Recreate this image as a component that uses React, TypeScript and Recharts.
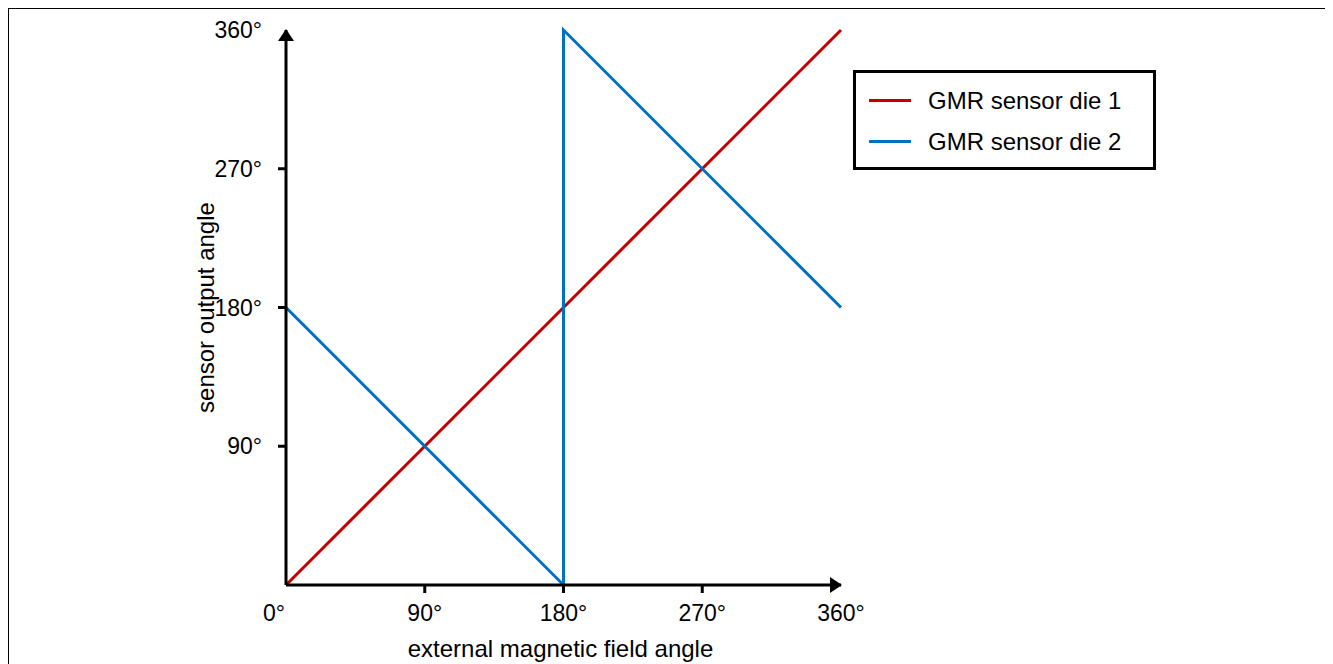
import React from 'react'
import { LineChart, Line, XAxis, YAxis, ReferenceDot } from 'recharts'

// angle (deg) in, angle (deg) out
const die1Angles = [0, 360]
const die1Output = [0, 360]
const die2Angles = [0, 180, 180, 360]
const die2Output = [180, 0, 360, 180]

const xTicks = [0, 90, 180, 270, 360]
const xTickLabels = ['0°', '90°', '180°', '270°', '360°']
const yTicks = [90, 180, 270, 360]
const yTickLabels = ['90°', '180°', '270°', '360°']

const seriesNames = ['GMR sensor die 1', 'GMR sensor die 2']
const seriesColors = ['#c00000', '#0070c0']

const die1 = die1Angles.map((a, i) => ({ angle: a, output: die1Output[i] }))
const die2 = die2Angles.map((a, i) => ({ angle: a, output: die2Output[i] }))

const XTick = (props: any) => {
  const { x, y, payload } = props
  const v = payload.value
  const label = xTickLabels[xTicks.indexOf(v)]
  const first = v === xTicks[0]
  const last = v === xTicks[xTicks.length - 1]
  return (
    <g>
      {!first && !last && <line x1={x} y1={y} x2={x} y2={y + 8} stroke="#000" strokeWidth={3} />}
      <text x={first ? x - 1 : x} y={y + 36} textAnchor={first ? 'end' : 'middle'} fontSize={23} fill="#000">
        {label}
      </text>
    </g>
  )
}

const YTick = (props: any) => {
  const { x, y, payload } = props
  const v = payload.value
  const label = yTickLabels[yTicks.indexOf(v)]
  const last = v === yTicks[yTicks.length - 1]
  return (
    <g>
      {!last && <line x1={x - 8} y1={y} x2={x} y2={y} stroke="#000" strokeWidth={3} />}
      <text x={x - 24} y={y + 8} textAnchor="end" fontSize={23} fill="#000">
        {label}
      </text>
    </g>
  )
}

const UpArrow = (props: any) => {
  const { cx, cy } = props
  return <path d={`M${cx},${cy - 1} L${cx - 8},${cy + 11} L${cx + 8},${cy + 11} Z`} fill="#000" />
}

const RightArrow = (props: any) => {
  const { cx, cy } = props
  return <path d={`M${cx + 1},${cy} L${cx - 11},${cy - 8} L${cx - 11},${cy + 8} Z`} fill="#000" />
}

const LegendBox = () => (
  <div style={{
    position: 'absolute',
    left: 844,
    top: 61,
    border: '3px solid #000',
    width: 303,
    height: 100,
    boxSizing: 'border-box',
    padding: '7px 0 0 13px',
    background: '#fff'
  }}>
    {seriesNames.map((name, i) => (
      <div key={name} style={{ display: 'flex', alignItems: 'center', height: 41 }}>
        <span style={{ display: 'inline-block', width: 42, height: 3, background: seriesColors[i], marginRight: 17 }} />
        <span style={{ fontSize: 24, color: '#000' }}>{name}</span>
      </div>
    ))}
  </div>
)

export default function App() {
  return (
    <div style={{
      position: 'relative',
      border: '1px solid #000',
      width: 1322,
      height: 700,
      fontFamily: '"Liberation Sans", Arial, sans-serif'
    }}>
      <LineChart
        width={1322}
        height={690}
        margin={{ top: 21, right: 490, left: 187, bottom: 74 }}
      >
        <XAxis
          dataKey="angle"
          type="number"
          domain={[0, 360]}
          ticks={xTicks}
          height={40}
          axisLine={{ stroke: '#000', strokeWidth: 3 }}
          tickLine={false}
          tickSize={0}
          tickMargin={0}
          tick={<XTick />}
          interval={0}
          label={{ value: 'external magnetic field angle', position: 'bottom', offset: 15, dx: -3, fontSize: 24, fill: '#000' }}
        />
        <YAxis
          type="number"
          domain={[0, 360]}
          ticks={yTicks}
          width={90}
          axisLine={{ stroke: '#000', strokeWidth: 3 }}
          tickLine={false}
          tickSize={0}
          tickMargin={0}
          tick={<YTick />}
          interval={0}
          label={{ value: 'sensor output angle', angle: -90, position: 'insideLeft', offset: 9, fontSize: 24, fill: '#000', style: { textAnchor: 'middle' } }}
        />
        <Line data={die1} dataKey="output" type="linear" stroke={seriesColors[0]} strokeWidth={3} dot={false} isAnimationActive={false} />
        <Line data={die2} dataKey="output" type="linear" stroke={seriesColors[1]} strokeWidth={3} dot={false} isAnimationActive={false} />
        <ReferenceDot x={0} y={360} shape={<UpArrow />} />
        <ReferenceDot x={360} y={0} shape={<RightArrow />} />
      </LineChart>
      <LegendBox />
    </div>
  )
}
